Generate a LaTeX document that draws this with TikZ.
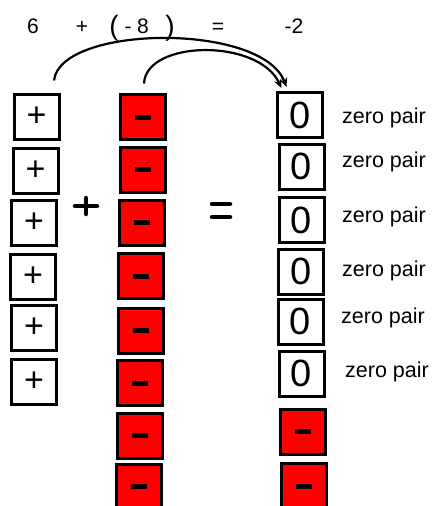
\documentclass[tikz,border=0pt]{standalone}
\usepackage{fontspec}
\setmainfont{Liberation Sans}
\usetikzlibrary{arrows.meta}
\begin{document}
\begin{tikzpicture}[x=1pt,y=-1pt,
  tile/.style={draw=black,line width=3pt,minimum width=45pt,minimum height=45pt,inner sep=0pt},
  plustile/.style={tile,fill=white,font=\fontsize{34}{34}\selectfont},
  minustile/.style={tile,fill=red},
  zerotile/.style={tile,fill=white,font=\fontsize{38}{38}\selectfont},
  pairlabel/.style={anchor=west,inner sep=0pt,font=\fontsize{21.5}{22}\selectfont},
  toplabel/.style={anchor=base,inner sep=0pt,font=\fontsize{21}{21}\selectfont},
  bigsign/.style={line width=4.5pt,line cap=round},
  hop/.style={line width=2.2pt,-{Stealth[length=9pt,width=8pt]}}]
\useasboundingbox (0,0) rectangle (437,506);
\clip (0,0) rectangle (437,506);

% equation on top
\node[toplabel] (six) at (33,33) {6};
\node[toplabel] (plus) at (82,33) {+};
\node[toplabel,font=\fontsize{28}{28}\selectfont] (lpar) at (114,35) {(};
\node[toplabel] (neg) at (128,33) {-};
\node[toplabel] (eight) at (143,33) {8};
\node[toplabel,font=\fontsize{28}{28}\selectfont] (rpar) at (170,35) {)};
\node[toplabel] (eq) at (218,33) {=};
\node[toplabel] (res) at (294,33) {-2};

% positive tiles
\node[plustile] (p1) at (36.5,117) {+};
\node[plustile] (p2) at (35.5,170.5) {+};
\node[plustile] (p3) at (34,223) {+};
\node[plustile] (p4) at (33,276.5) {+};
\node[plustile] (p5) at (34,328) {+};
\node[plustile] (p6) at (34,382) {+};

% negative tiles
\node[minustile] (m1) at (142.5,117) {\rule{16pt}{5pt}};
\node[minustile] (m2) at (142.5,169.5) {\rule{16pt}{5pt}};
\node[minustile] (m3) at (141.5,222.5) {\rule{16pt}{5pt}};
\node[minustile] (m4) at (140.5,276) {\rule{16pt}{5pt}};
\node[minustile] (m5) at (141,330.5) {\rule{16pt}{5pt}};
\node[minustile] (m6) at (139.5,383) {\rule{16pt}{5pt}};
\node[minustile] (m7) at (140,435.5) {\rule{16pt}{5pt}};
\node[minustile] (m8) at (139,486.5) {\rule{16pt}{5pt}};

% result column
\node[zerotile] (z1) at (300,115) {0};
\node[zerotile] (z2) at (301.5,166.5) {0};
\node[zerotile] (z3) at (301.5,220) {0};
\node[zerotile] (z4) at (301,271.5) {0};
\node[zerotile] (z5) at (300.5,321.5) {0};
\node[zerotile] (z6) at (301.5,373.5) {0};
\node[minustile] (r1) at (303,431.5) {\rule{16pt}{5pt}};
\node[minustile] (r2) at (304,486) {\rule{16pt}{5pt}};

% labels
\node[pairlabel] (l1) at (342,118) {zero pair};
\node[pairlabel] (l2) at (342,162) {zero pair};
\node[pairlabel] (l3) at (342,217) {zero pair};
\node[pairlabel] (l4) at (342,271) {zero pair};
\node[pairlabel] (l5) at (341,318) {zero pair};
\node[pairlabel] (l6) at (345,372) {zero pair};

% operation signs between the columns
\draw[bigsign] (75,206) -- (97,206) (86,198) -- (86,214);
\draw[bigsign] (212,204) -- (230,204) (212,217) -- (230,217);

% arrows into the result
\draw[hop] ([xshift=17.5pt,yshift=12.5pt]p1.north)
  .. controls (60,25) and (262,22) .. ([xshift=10.5pt,yshift=4pt]z1.north west);
\draw[hop] ([xshift=1.5pt,yshift=9.5pt]m1.north)
  .. controls (146,40) and (258,38) .. ([xshift=5.5pt,yshift=3pt]z1.north west);
\end{tikzpicture}
\end{document}
